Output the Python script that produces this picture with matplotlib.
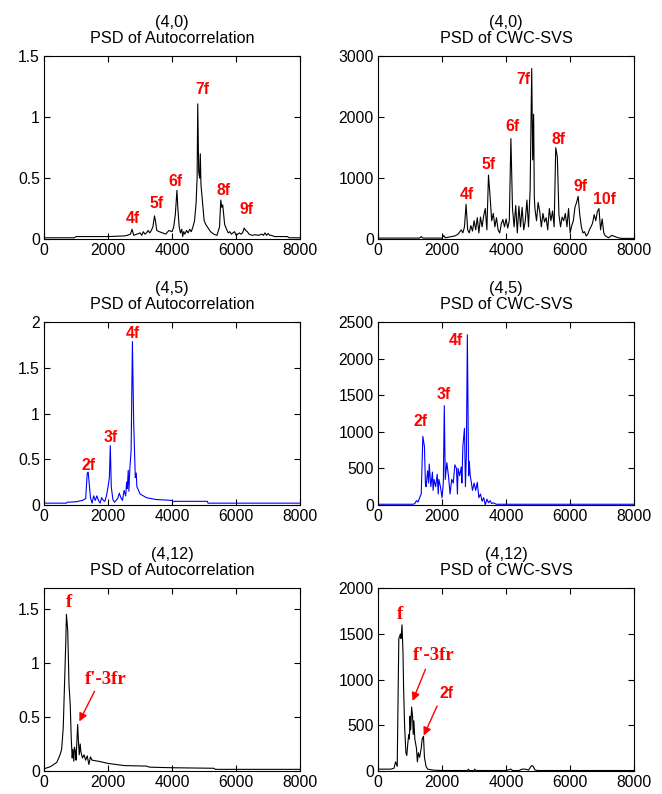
import numpy as np
import matplotlib
matplotlib.use("Agg")
import matplotlib.pyplot as plt
from matplotlib.ticker import FormatStrFormatter

plt.rcParams['font.family'] = ['Liberation Sans', 'DejaVu Sans']
plt.rcParams['font.size'] = 10

# ---- (4,0) PSD of Autocorrelation ----
f_ac40 = [0, 950, 1000, 2000, 2500, 2600, 2700, 2750, 2800, 2900, 3000, 3050, 3100, 3150, 3200, 3250, 3300,
          3350, 3400, 3450, 3480, 3520, 3600, 3700, 3800, 3900, 4000, 4050, 4100, 4150, 4180, 4220, 4260,
          4300, 4330, 4360, 4400, 4450, 4500, 4550, 4600, 4650, 4700, 4750, 4780, 4800, 4830, 4860, 4880,
          4900, 4950, 5000, 5050, 5100, 5200, 5300, 5400, 5480, 5520, 5550, 5580, 5610, 5640, 5700, 5750,
          5800, 5850, 5900, 5950, 6000, 6050, 6100, 6150, 6200, 6250, 6300, 6350, 6400, 6500, 6600, 6700,
          6800, 6850, 6900, 6950, 7000, 7050, 7100, 7200, 7600, 7650, 8000]
p_ac40 = [0.01, 0.01, 0.02, 0.02, 0.025, 0.03, 0.04, 0.08, 0.03, 0.04, 0.05, 0.03, 0.06, 0.04, 0.05, 0.07, 0.05,
          0.07, 0.1, 0.19, 0.15, 0.07, 0.06, 0.05, 0.04, 0.07, 0.06, 0.1, 0.2, 0.4, 0.25, 0.1, 0.05,
          0.08, 0.02, 0.06, 0.04, 0.07, 0.05, 0.08, 0.06, 0.1, 0.15, 0.3, 0.5, 1.11, 0.55, 0.5, 0.7,
          0.45, 0.3, 0.15, 0.12, 0.1, 0.06, 0.04, 0.03, 0.1, 0.32, 0.26, 0.28, 0.2, 0.12, 0.08, 0.05,
          0.06, 0.04, 0.05, 0.06, 0.03, 0.04, 0.05, 0.04, 0.05, 0.09, 0.07, 0.06, 0.04, 0.03, 0.035, 0.03,
          0.04, 0.03, 0.05, 0.03, 0.045, 0.03, 0.03, 0.02, 0.02, 0.01, 0.01]

# ---- (4,0) PSD of CWC-SVS ----
f_cw40 = [0, 1300, 1350, 1400, 2000, 2050, 2100, 2400, 2500, 2600, 2650, 2700, 2750, 2800, 2850, 2900, 2950,
          3000, 3050, 3100, 3150, 3200, 3250, 3300, 3350, 3400, 3450, 3500, 3550, 3600, 3650, 3700, 3750,
          3800, 3850, 3900, 3950, 4000, 4050, 4100, 4150, 4200, 4250, 4300, 4350, 4400, 4450, 4500, 4550,
          4600, 4650, 4700, 4750, 4800, 4830, 4860, 4880, 4900, 4950, 5000, 5050, 5100, 5150, 5200, 5250,
          5300, 5350, 5400, 5450, 5500, 5550, 5600, 5650, 5700, 5750, 5800, 5850, 5900, 5950, 6000, 6050,
          6100, 6150, 6200, 6250, 6300, 6350, 6400, 6450, 6500, 6550, 6600, 6650, 6700, 6750, 6800, 6850,
          6900, 6950, 7000, 7050, 7100, 7200, 7300, 7400, 7500, 7600, 8000]
p_cw40 = [15, 15, 40, 15, 15, 60, 20, 50, 80, 150, 100, 200, 570, 150, 100, 220, 130,
          300, 150, 350, 100, 360, 200, 380, 500, 150, 1050, 700, 300, 420, 200, 350, 150,
          100, 250, 320, 200, 330, 180, 300, 1650, 500, 200, 550, 100, 540, 200, 520, 150,
          300, 640, 200, 800, 2800, 1300, 2050, 700, 500, 300, 600, 450, 200, 420, 280, 350,
          150, 500, 300, 460, 200, 1500, 1350, 400, 200, 360, 300, 420, 200, 500, 100, 220,
          300, 520, 600, 700, 400, 200, 100, 120, 50, 80, 150, 200, 260, 400, 300, 450,
          500, 150, 330, 100, 50, 20, 60, 40, 20, 10, 10]

# ---- (4,5) PSD of Autocorrelation ----
f_ac45 = [0, 700, 720, 1000, 1200, 1300, 1350, 1380, 1420, 1450, 1500, 1550, 1600, 1650, 1700, 1750, 1800,
          1850, 1900, 1950, 2000, 2040, 2070, 2100, 2150, 2200, 2250, 2300, 2350, 2400, 2450, 2500, 2550,
          2580, 2600, 2630, 2650, 2680, 2720, 2760, 2800, 2850, 2880, 2900, 3000, 3200, 3500, 4000, 4020,
          5100, 5120, 8000]
p_ac45 = [0.02, 0.02, 0.03, 0.035, 0.05, 0.07, 0.35, 0.36, 0.2, 0.08, 0.02, 0.1, 0.05, 0.1, 0.05, 0.02, 0.08,
          0.05, 0.04, 0.1, 0.2, 0.3, 0.65, 0.2, 0.06, 0.03, 0.05, 0.07, 0.13, 0.08, 0.05, 0.16, 0.1,
          0.25, 0.18, 0.38, 0.15, 0.4, 0.6, 1.79, 0.9, 0.3, 0.35, 0.2, 0.12, 0.08, 0.06, 0.05, 0.04,
          0.04, 0.02, 0.02]

# ---- (4,5) PSD of CWC-SVS ----
f_cw45 = [0, 1100, 1150, 1200, 1250, 1300, 1350, 1400, 1450, 1480, 1500, 1550, 1580, 1600, 1650, 1700, 1720,
          1750, 1800, 1850, 1880, 1900, 1950, 2000, 2040, 2070, 2100, 2150, 2200, 2250, 2300, 2350, 2400,
          2450, 2480, 2500, 2550, 2600, 2620, 2650, 2700, 2730, 2760, 2790, 2830, 2850, 2880, 2900, 2950,
          3000, 3050, 3100, 3150, 3200, 3250, 3300, 3350, 3400, 3450, 3500, 3550, 3600, 3700, 8000]
p_cw45 = [10, 10, 20, 60, 40, 100, 150, 940, 800, 300, 250, 470, 300, 560, 250, 450, 200,
          350, 250, 420, 150, 350, 250, 100, 300, 1360, 350, 580, 400, 150, 350, 300, 550,
          500, 150, 500, 400, 520, 300, 800, 1050, 250, 700, 2330, 400, 600, 400, 350, 200,
          300, 200, 310, 100, 150, 50, 100, 0, 80, 30, 60, 20, 30, 10, 10]

# ---- (4,12) PSD of Autocorrelation ----
f_ac412 = [0, 200, 400, 500, 550, 600, 650, 680, 700, 740, 780, 820, 850, 880, 900, 930, 950, 980, 1000,
           1030, 1050, 1080, 1100, 1130, 1150, 1200, 1250, 1300, 1350, 1400, 1450, 1500, 1700, 2000, 2500,
           3200, 3300, 4000, 5300, 5350, 8000]
p_ac412 = [0.02, 0.04, 0.08, 0.15, 0.2, 0.4, 0.9, 1.2, 1.45, 1.3, 0.8, 0.6, 0.3, 0.12, 0.2, 0.09, 0.22, 0.18, 0.1,
           0.3, 0.43, 0.25, 0.15, 0.25, 0.18, 0.12, 0.15, 0.1, 0.14, 0.06, 0.13, 0.1, 0.09, 0.07, 0.05,
           0.045, 0.035, 0.03, 0.025, 0.015, 0.015]

# ---- (4,12) PSD of CWC-SVS ----
f_cw412 = [0, 400, 500, 550, 600, 650, 700, 720, 750, 780, 800, 830, 870, 900, 930, 960, 980, 1000, 1020,
           1050, 1080, 1100, 1120, 1150, 1200, 1230, 1260, 1300, 1350, 1380, 1420, 1450, 1500, 1550, 1700,
           2000, 2800, 2820, 2850, 3000, 3020, 3050, 4000, 4150, 4200, 4400, 4500, 4600, 4700, 4800, 4850,
           4900, 5000, 8000]
p_cw412 = [20, 20, 30, 100, 50, 1450, 1500, 1450, 1600, 1300, 900, 500, 200, 170, 300, 400, 350, 600, 450,
           700, 600, 400, 550, 350, 250, 100, 200, 150, 250, 350, 380, 150, 50, 20, 10,
           5, 5, 20, 5, 5, 20, 5, 5, 20, 5, 5, 20, 20, 10, 60, 50,
           10, 5, 5]

fig = plt.figure(figsize=(6.62, 7.94), dpi=100)
col_x = [0.0665, 0.571]
row_y = [0.699, 0.364, 0.029]
w, h = 0.387, 0.230

red = '#ff0000'


def make_ax(r, c, title, ylim, yticks, fmt):
    ax = fig.add_axes([col_x[c], row_y[r], w, h])
    ax.set_xlim(0, 8000)
    ax.set_ylim(*ylim)
    ax.set_xticks([0, 2000, 4000, 6000, 8000])
    ax.set_yticks(yticks)
    ax.yaxis.set_major_formatter(FormatStrFormatter(fmt))
    ax.tick_params(direction='in', top=True, right=True, length=4, labelsize=11.3, pad=3)
    for s in ax.spines.values():
        s.set_linewidth(0.8)
    ax.set_title(title, fontsize=11.7, pad=9.5, linespacing=1.1)
    return ax


def lab(ax, x, y, s, serif=False):
    fam = ['Liberation Serif'] if serif else ['Liberation Sans']
    ax.text(x, y, s, color=red, fontweight='bold', fontsize=11.3 if not serif else 13.5,
            ha='center', va='center', family=fam)


def arrow(ax, xy, xytext):
    ax.annotate('', xy=xy, xytext=xytext,
                arrowprops=dict(arrowstyle='-|>', color=red, lw=1.0, mutation_scale=12))


# row 1
ax = make_ax(0, 0, '(4,0)\nPSD of Autocorrelation', (0, 1.5), [0, 0.5, 1, 1.5], '%g')
ax.plot(f_ac40, p_ac40, color='black', lw=0.8)
for x, y, s in [(2760, 0.17, '4f'), (3510, 0.29, '5f'), (4110, 0.47, '6f'),
                (4960, 1.23, '7f'), (5620, 0.40, '8f'), (6310, 0.24, '9f')]:
    lab(ax, x, y, s)

ax = make_ax(0, 1, '(4,0)\nPSD of CWC-SVS', (0, 3000), [0, 1000, 2000, 3000], '%g')
ax.plot(f_cw40, p_cw40, color='black', lw=0.8)
for x, y, s in [(2760, 728, '4f'), (3437, 1231, '5f'), (4198, 1850, '6f'), (4531, 2616, '7f'),
                (5625, 1630, '8f'), (6333, 865, '9f'), (7083, 646, '10f')]:
    lab(ax, x, y, s)

# row 2
ax = make_ax(1, 0, '(4,5)\nPSD of Autocorrelation', (0, 2), [0, 0.5, 1, 1.5, 2], '%g')
ax.plot(f_ac45, p_ac45, color='#0000ff', lw=0.8)
for x, y, s in [(1385, 0.43, '2f'), (2083, 0.74, '3f'), (2760, 1.88, '4f')]:
    lab(ax, x, y, s)

ax = make_ax(1, 1, '(4,5)\nPSD of CWC-SVS', (0, 2500), [0, 500, 1000, 1500, 2000, 2500], '%g')
ax.plot(f_cw45, p_cw45, color='#0000ff', lw=0.8)
for x, y, s in [(1328, 1144, '2f'), (2060, 1512, '3f'), (2437, 2258, '4f')]:
    lab(ax, x, y, s)

# row 3
ax = make_ax(2, 0, '(4,12)\nPSD of Autocorrelation', (0, 1.69), [0, 0.5, 1, 1.5], '%g')
ax.plot(f_ac412, p_ac412, color='black', lw=0.8)
lab(ax, 781, 1.56, 'f', serif=True)
lab(ax, 1927, 0.85, "f'-3fr", serif=True)
arrow(ax, (1063, 0.435), (1615, 0.76))

ax = make_ax(2, 1, '(4,12)\nPSD of CWC-SVS', (0, 2000), [0, 500, 1000, 1500, 2000], '%g')
ax.plot(f_cw412, p_cw412, color='black', lw=0.8)
lab(ax, 701, 1712, 'f', serif=True)
lab(ax, 1746, 1261, "f'-3fr", serif=True)
lab(ax, 2144, 847, '2f')
arrow(ax, (1046, 739), (1516, 1142))
arrow(ax, (1391, 360), (1882, 739))

fig.savefig('out.png', dpi=100)
